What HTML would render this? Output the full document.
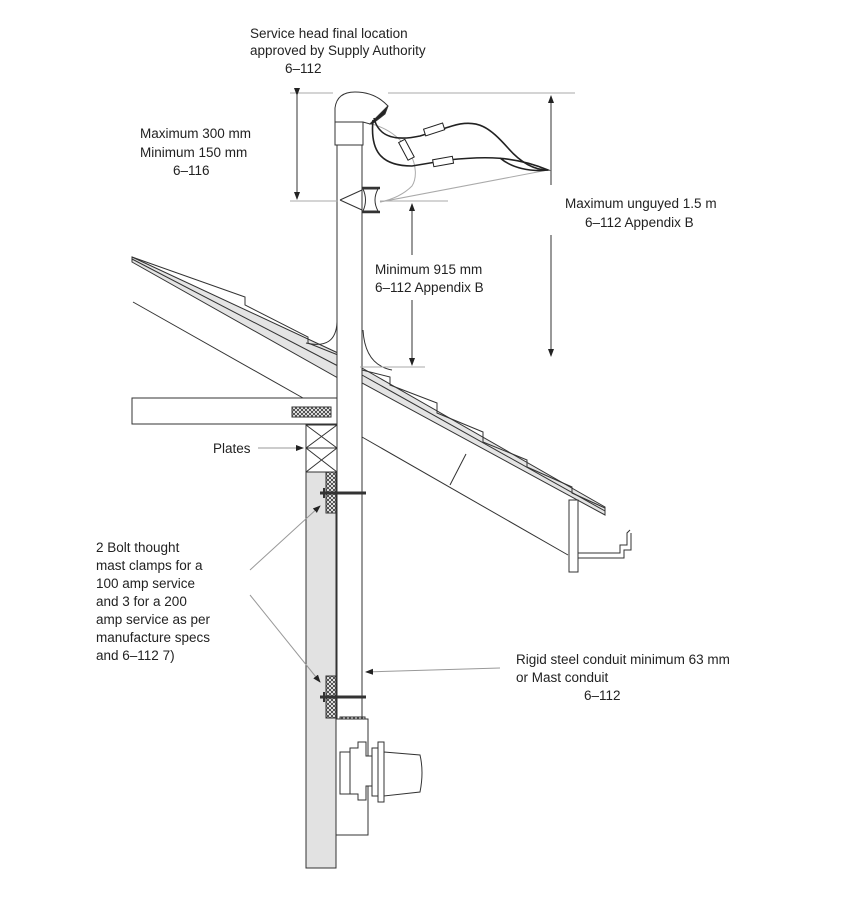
<!DOCTYPE html>
<html><head><meta charset="utf-8"><style>
html,body{margin:0;padding:0;background:#fff;}
svg{display:block;}
text{font-family:"Liberation Sans",sans-serif;font-size:13.5px;fill:#222;}
</style></head><body>
<svg width="852" height="902" viewBox="0 0 852 902" xmlns="http://www.w3.org/2000/svg">
<defs>
<pattern id="h" width="4" height="4" patternUnits="userSpaceOnUse"><rect width="4" height="4" fill="#fff"/><path d="M0 0L4 4M4 0L0 4" stroke="#333" stroke-width="0.8"/></pattern>
<marker id="a" markerWidth="8" markerHeight="10" refX="7" refY="4" orient="auto"><path d="M0 1L8 4L0 7z" fill="#222"/></marker>
</defs>
<g fill="none" stroke="#333" stroke-width="1">
<!-- roof left -->
<polygon points="132,257 338,353 338,378 132,262" fill="#e4e4e4"/>
<path d="M132,259 L338,366"/>
<path d="M132,257 L245,297 L245,305 L308,337 L308,343 L338,355"/>
<path d="M133,302 L303,398"/>
<!-- roof right -->
<polygon points="362,368 605,507 605,515 362,383" fill="#e4e4e4"/>
<path d="M362,375 L605,511"/>
<path d="M362,370 L390,377 L390,385 L437,403 L437,413 L483,432 L483,442 L527,460 L527,467 L572,487 L572,493 L605,508"/>
<path d="M362,437 L568,555"/>
<path d="M450,485 L466,454"/>
<!-- flashing -->
<path d="M306,343 Q336,350 337,322"/>
<path d="M363,330 Q365,365 392,370"/>
<!-- fascia & gutter -->
<rect x="569" y="500" width="9" height="72" fill="#fff"/>
<path d="M578,553 L620,553 L620,545 L627,545 L627,533 L630,530 M578,558 L624,558 L624,550 L631,550 L631,533"/>
<!-- beam -->
<rect x="132" y="398" width="206" height="26" fill="#fff"/>
<rect x="292" y="407" width="39" height="10" fill="url(#h)"/>
<!-- plates -->
<rect x="306" y="425" width="31" height="23"/><path d="M306,425 L337,448 M337,425 L306,448"/>
<rect x="306" y="448" width="31" height="24"/><path d="M306,448 L337,472 M337,448 L306,472"/>
<!-- wall -->
<rect x="306" y="472" width="30" height="396" fill="#e2e2e2"/>
<rect x="326" y="472" width="10" height="41" fill="url(#h)"/>
<rect x="326" y="676" width="10" height="42" fill="url(#h)"/>
<!-- mast -->
<rect x="337" y="145" width="25" height="574" fill="#fff"/>
<path d="M320,493 L366,493 M320,697 L366,697" stroke-width="3"/>
<path d="M324,488 L324,498 M324,692 L324,702" stroke-width="2"/>
<rect x="340" y="717" width="25" height="4" fill="url(#h)"/>
<!-- cap -->
<rect x="335" y="122" width="28" height="23" fill="#fff"/>
<path d="M335,122 L335,108 Q337,92 355,92 Q375,92 388,106 L370,124 L363,122 Z" fill="#fff"/>
<path d="M370,124 L388,106 L385,114 L372,124Z" fill="#222"/>
<!-- meter box -->
<rect x="336" y="719" width="32" height="116" fill="#fff"/>
<rect x="340" y="752" width="10" height="42"/>
<path d="M350,748 L358,748 L358,742 L366,742 L366,756 L372,756 L372,786 L366,786 L366,800 L358,800 L358,794 L350,794Z" fill="#fff"/>
<rect x="372" y="748" width="6" height="48" fill="#fff"/>
<rect x="378" y="742" width="6" height="60" fill="#fff"/>
<path d="M384,752 L420,755 Q424,772 420,792 L384,796Z" fill="#fff"/>
<!-- bracket -->
<path d="M340,200 L362,190 M340,200 L362,210"/>
<path d="M363,189 L378,189 Q372,200 378,211 L363,211 Q368,200 363,189Z" fill="#fff"/>
<path d="M362,188 L380,188 M362,212 L380,212" stroke-width="2.5"/>
<!-- gray lines from head -->
<path d="M372,124 C410,135 422,170 412,186 Q400,198 380,202" stroke="#aaa"/>
<path d="M380,202 L548,170" stroke="#aaa"/>
<!-- wires -->
<g stroke="#222" stroke-width="1.6">
<path d="M374,118 C378,135 392,142 420,136 L452,126 C478,118 490,128 508,148 C522,164 535,170 548,170"/>
<path d="M373,120 C370,150 380,166 412,166 L448,160 C485,156 515,156 548,170 C530,172 512,168 500,158"/>
</g>
<g fill="#fff" stroke="#222"><rect x="424" y="126" width="20" height="7" transform="rotate(-18 434 129)"/><rect x="433" y="158" width="20" height="7" transform="rotate(-10 443 161)"/><rect x="396" y="146" width="20" height="7" transform="rotate(62 406 150)"/></g>
<!-- dimension lines -->
<g stroke="#aaa">
<path d="M290,93 L333,93 M388,93 L575,93"/>
<path d="M290,201 L338,201"/>
<path d="M380,201 L448,201"/>
<path d="M360,367 L425,367"/>
</g>
<g stroke="#333">
<path d="M297,95 L297,199" marker-start="url(#a)" marker-end="url(#a)"/>
<path d="M412,300 L412,365" marker-end="url(#a)"/>
<path d="M412,255 L412,204" marker-end="url(#a)"/>
<path d="M551,235 L551,356" marker-end="url(#a)"/>
<path d="M551,185 L551,96" marker-end="url(#a)"/>
</g>
<g stroke="#999">
<path d="M258,448 L303,448" marker-end="url(#a)"/>
<path d="M250,570 L320,506" marker-end="url(#a)"/>
<path d="M250,595 L320,682" marker-end="url(#a)"/>
<path d="M500,668 L366,672" marker-end="url(#a)"/>
</g>
</g>
<text x="250" y="38">Service head final location</text>
<text x="250" y="55">approved by Supply Authority</text>
<text x="285" y="73">6–112</text>
<text x="140" y="138">Maximum 300 mm</text>
<text x="140" y="157">Minimum 150 mm</text>
<text x="173" y="175">6–116</text>
<text x="565" y="208">Maximum unguyed 1.5 m</text>
<text x="585" y="227">6–112 Appendix B</text>
<text x="375" y="274">Minimum 915 mm</text>
<text x="375" y="292">6–112 Appendix B</text>
<text x="213" y="453">Plates</text>
<text x="96" y="552">2 Bolt thought</text>
<text x="96" y="570">mast clamps for a</text>
<text x="96" y="588">100 amp service</text>
<text x="96" y="606">and 3 for a 200</text>
<text x="96" y="624">amp service as per</text>
<text x="96" y="642">manufacture specs</text>
<text x="96" y="660">and 6–112 7)</text>
<text x="516" y="664">Rigid steel conduit minimum 63 mm</text>
<text x="516" y="682">or Mast conduit</text>
<text x="584" y="700">6–112</text>
</svg>
</body></html>
